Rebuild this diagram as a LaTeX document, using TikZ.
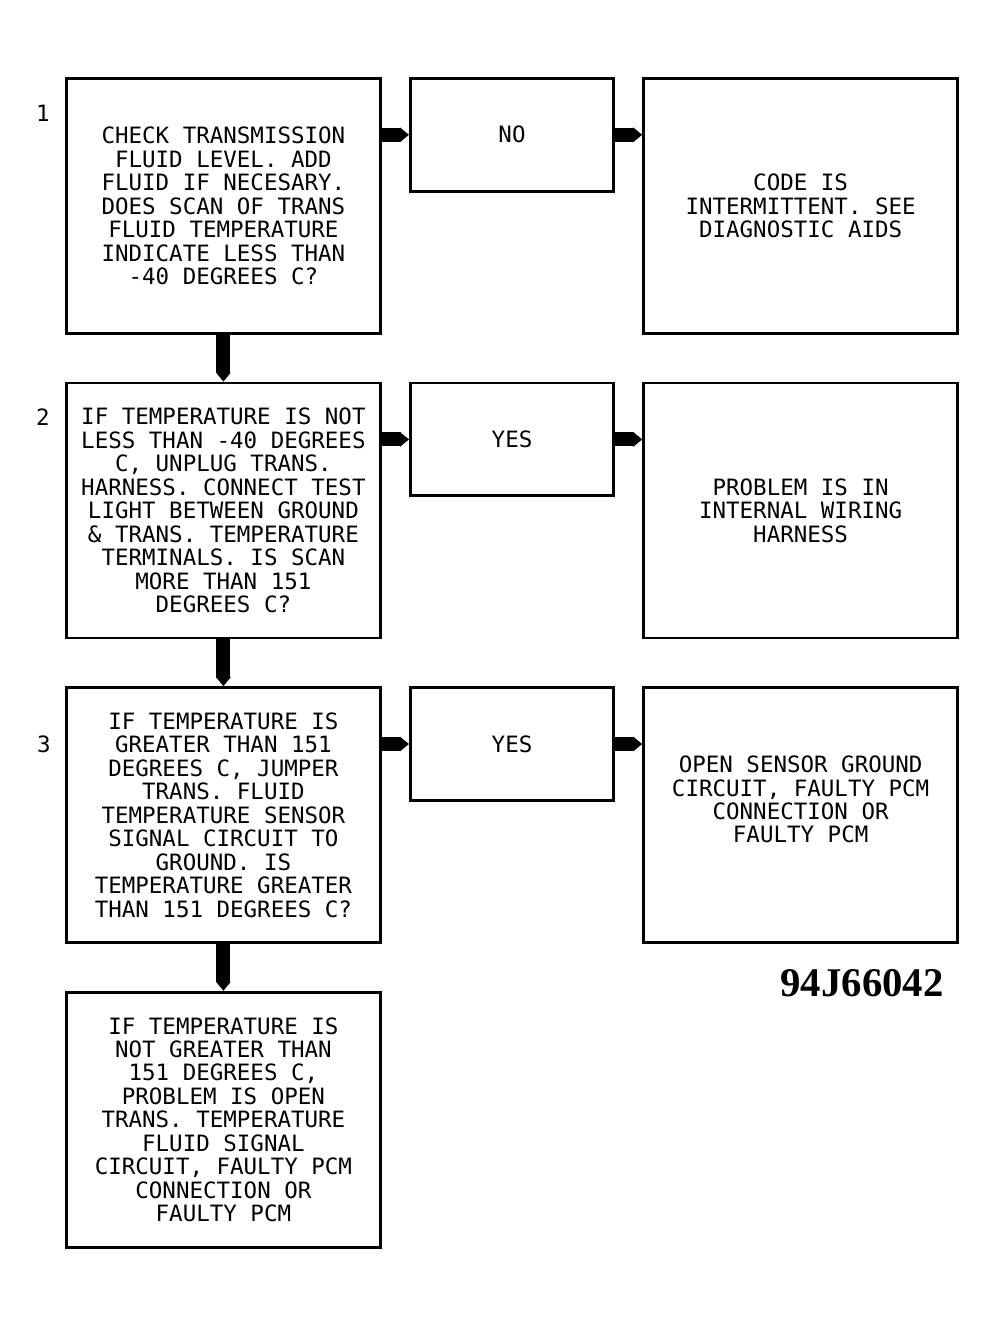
\documentclass[tikz,border=0pt]{standalone}
\usepackage{fontspec}
\setmainfont{Liberation Serif}
\setmonofont{DejaVu Sans Mono}
\usetikzlibrary{positioning}
\usetikzlibrary{arrows.meta}
\tikzset{
    node distance=1.17cm and 0.68cm, % gaps between the boxes
    bigbox/.style={ % the question and result boxes
        draw,
        line width=2pt,
        minimum width=7.85cm,
        minimum height=6.375cm,
        inner sep=0pt,
        align=center,
        font=\ttfamily\fontsize{16}{16.7}\selectfont
    },
    smallbox/.style={ % the YES / NO boxes
        bigbox,
        minimum width=5.08cm,
        minimum height=2.82cm
    },
    flow/.style={ % heavy arrows between boxes
        draw,
        line width=10pt,
        -{Triangle[width=0pt 1, length=0.225cm]}
    },
    steplabel/.style={font=\ttfamily\fontsize{16}{16}\selectfont}
}

\begin{document}
\begin{tikzpicture}
            \useasboundingbox (0,0) rectangle (24.95,-33.075);

            \node[bigbox, anchor=north west] (q1) at (1.625,-1.925) {CHECK TRANSMISSION\\FLUID LEVEL. ADD\\FLUID IF NECESARY.\\DOES SCAN OF TRANS\\FLUID TEMPERATURE\\INDICATE LESS THAN\\-40 DEGREES C?};
            \node[bigbox, below=of q1] (q2) {IF TEMPERATURE IS NOT\\LESS THAN -40 DEGREES\\C, UNPLUG TRANS.\\HARNESS. CONNECT TEST\\LIGHT BETWEEN GROUND\\\& TRANS. TEMPERATURE\\TERMINALS. IS SCAN\\MORE THAN 151\\DEGREES C?};
            \node[bigbox, below=of q2] (q3) {IF TEMPERATURE IS\\GREATER THAN 151\\DEGREES C, JUMPER\\TRANS. FLUID\\TEMPERATURE SENSOR\\SIGNAL CIRCUIT TO\\GROUND. IS\\TEMPERATURE GREATER\\THAN 151 DEGREES C?};
            \node[bigbox, below=of q3] (q4) {IF TEMPERATURE IS\\NOT GREATER THAN\\151 DEGREES C,\\PROBLEM IS OPEN\\TRANS. TEMPERATURE\\FLUID SIGNAL\\CIRCUIT, FAULTY PCM\\CONNECTION OR\\FAULTY PCM};

            \node[smallbox, right=of q1.north east, anchor=north west] (a1) {NO};
            \node[smallbox, right=of q2.north east, anchor=north west] (a2) {YES};
            \node[smallbox, right=of q3.north east, anchor=north west] (a3) {YES};

            \node[bigbox, right=of a1.north east, anchor=north west] (r1) {CODE IS\\INTERMITTENT. SEE\\DIAGNOSTIC AIDS};
            \node[bigbox, right=of a2.north east, anchor=north west] (r2) {PROBLEM IS IN\\INTERNAL WIRING\\HARNESS};
            \node[bigbox, right=of a3.north east, anchor=north west] (r3) {OPEN SENSOR GROUND\\CIRCUIT, FAULTY PCM\\CONNECTION OR\\FAULTY PCM\\[0.2cm]};

            \node[steplabel] (n1) at (1.075,-2.825) {1};
            \node[steplabel] (n2) at (1.075,-10.425) {2};
            \node[steplabel] (n3) at (1.1,-18.6) {3};

            \node[font=\bfseries\fontsize{29}{29}\selectfont] (code) at (21.55,-24.575) {94J66042};

            \draw[flow] (q1.south) -- (q2.north);
            \draw[flow] (q2.south) -- (q3.north);
            \draw[flow] (q3.south) -- (q4.north);

            \draw[flow] (q1.east |- a1.west) -- (a1.west);
            \draw[flow] (q2.east |- a2.west) -- (a2.west);
            \draw[flow] (q3.east |- a3.west) -- (a3.west);

            \draw[flow] (a1.east) -- (a1.east -| r1.west);
            \draw[flow] (a2.east) -- (a2.east -| r2.west);
            \draw[flow] (a3.east) -- (a3.east -| r3.west);
        \end{tikzpicture}
\end{document}
